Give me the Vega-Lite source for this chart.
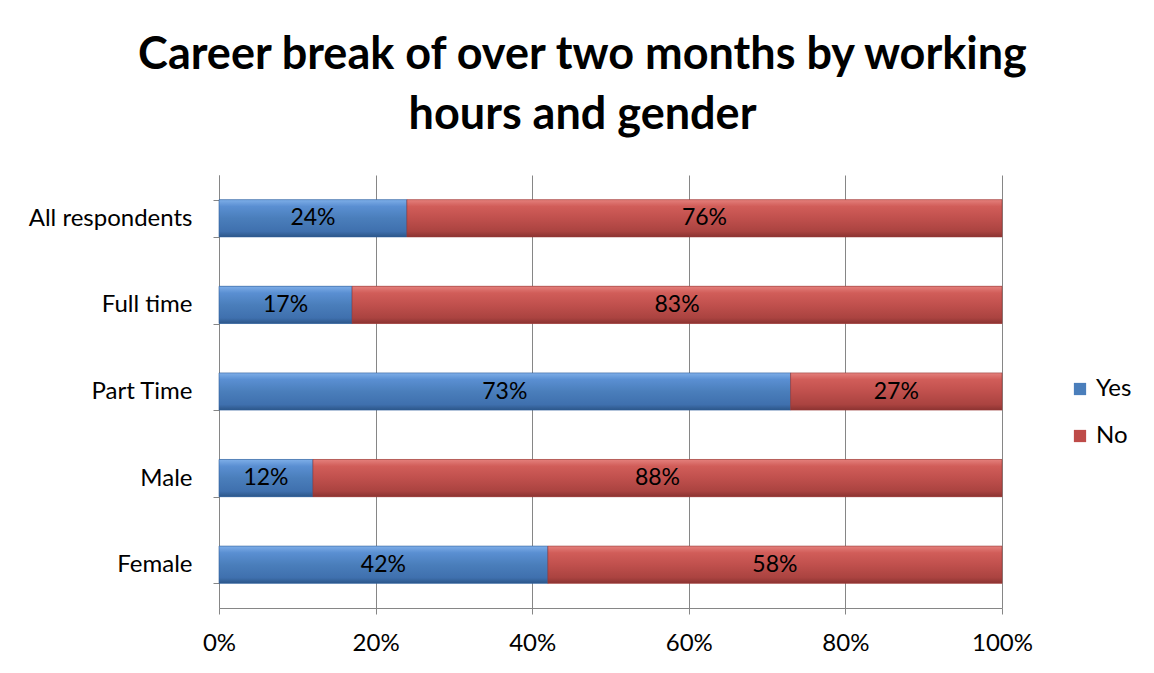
{
  "$schema": "https://vega.github.io/schema/vega-lite/v6.json",
  "width": 783,
  "height": 433,
  "autosize": {"type": "none"},
  "padding": {"left": 219, "top": 175, "right": 152, "bottom": 65},
  "background": "white",
  "config": {"view": {"stroke": null}},
  "title": {
    "text": ["Career break of over two months by working", "hours and gender"],
    "font": "Lato",
    "fontSize": 45,
    "fontWeight": "bold",
    "color": "black",
    "anchor": "middle",
    "frame": "group",
    "dx": -28,
    "offset": 25,
    "lineHeight": 60
  },
  "data": {
    "values": [
      {"category": "All respondents", "answer": "Yes", "value": 0.24, "label": "24%"},
      {"category": "All respondents", "answer": "No", "value": 0.76, "label": "76%"},
      {"category": "Full time", "answer": "Yes", "value": 0.17, "label": "17%"},
      {"category": "Full time", "answer": "No", "value": 0.83, "label": "83%"},
      {"category": "Part Time", "answer": "Yes", "value": 0.73, "label": "73%"},
      {"category": "Part Time", "answer": "No", "value": 0.27, "label": "27%"},
      {"category": "Male", "answer": "Yes", "value": 0.12, "label": "12%"},
      {"category": "Male", "answer": "No", "value": 0.88, "label": "88%"},
      {"category": "Female", "answer": "Yes", "value": 0.42, "label": "42%"},
      {"category": "Female", "answer": "No", "value": 0.58, "label": "58%"}
    ]
  },
  "transform": [
    {"stack": "value", "groupby": ["category"], "sort": [{"field": "answer", "order": "descending"}], "as": ["v0", "v1"]},
    {"calculate": "(datum.v0 + datum.v1) / 2", "as": "mid"}
  ],
  "encoding": {
    "y": {
      "field": "category",
      "type": "nominal",
      "sort": ["All respondents", "Full time", "Part Time", "Male", "Female"],
      "scale": {"paddingInner": 0.57, "paddingOuter": 0.285},
      "axis": {
        "title": null,
        "tickBand": "extent",
        "ticks": true,
        "tickSize": 6,
        "tickColor": "#868686",
        "domainColor": "#868686",
        "labelFont": "Lato",
        "labelFontSize": 24,
        "labelColor": "black",
        "labelPadding": 21,
        "grid": false
      }
    }
  },
  "layer": [
    {
      "mark": {"type": "bar"},
      "encoding": {
        "x": {
          "field": "v0",
          "type": "quantitative",
          "scale": {"domain": [0, 1]},
          "axis": {
            "title": null,
            "values": [0, 0.2, 0.4, 0.6, 0.8, 1],
            "format": ".0%",
            "grid": true,
            "gridColor": "#868686",
            "domainColor": "#868686",
            "tickColor": "#868686",
            "tickSize": 6,
            "labelFlush": false,
            "labelFont": "Lato",
            "labelFontSize": 24,
            "labelColor": "black",
            "labelPadding": 17
          }
        },
        "x2": {"field": "v1"},
        "color": {
          "field": "answer",
          "type": "nominal",
          "scale": {"domain": ["Yes", "No"], "range": ["#4a7ebb", "#be4b48"]},
          "legend": {
            "title": null,
            "orient": "none",
            "legendX": 849,
            "legendY": 202,
            "symbolType": "square",
            "symbolSize": 150,
            "symbolStrokeWidth": 0,
            "labelFont": "Lato",
            "labelFontSize": 24,
            "labelColor": "black",
            "labelOffset": 4,
            "rowPadding": 23
          }
        }
      }
    },
    {
      "transform": [{"filter": "datum.answer === 'Yes'"}],
      "mark": {
        "type": "bar",
        "stroke": "#2f5f9c",
        "strokeWidth": 0.6,
        "fill": {
          "gradient": "linear", "x1": 0, "y1": 0, "x2": 0, "y2": 1,
          "stops": [
            {"offset": 0, "color": "#7eaee8"},
            {"offset": 0.18, "color": "#5a8fd2"},
            {"offset": 0.5, "color": "#4a7ebb"},
            {"offset": 0.85, "color": "#3f70ae"},
            {"offset": 1, "color": "#2c5689"}
          ]
        }
      },
      "encoding": {
        "x": {"field": "v0", "type": "quantitative", "scale": {"domain": [0, 1]}},
        "x2": {"field": "v1"}
      }
    },
    {
      "transform": [{"filter": "datum.answer === 'No'"}],
      "mark": {
        "type": "bar",
        "stroke": "#9b3a38",
        "strokeWidth": 0.6,
        "fill": {
          "gradient": "linear", "x1": 0, "y1": 0, "x2": 0, "y2": 1,
          "stops": [
            {"offset": 0, "color": "#e4807c"},
            {"offset": 0.18, "color": "#d15d59"},
            {"offset": 0.5, "color": "#c0504d"},
            {"offset": 0.85, "color": "#aa4340"},
            {"offset": 1, "color": "#8b3331"}
          ]
        }
      },
      "encoding": {
        "x": {"field": "v0", "type": "quantitative", "scale": {"domain": [0, 1]}},
        "x2": {"field": "v1"}
      }
    },
    {
      "mark": {"type": "text", "font": "Lato", "fontSize": 23, "color": "black", "align": "center", "baseline": "middle"},
      "encoding": {
        "x": {"field": "mid", "type": "quantitative", "scale": {"domain": [0, 1]}},
        "text": {"field": "label", "type": "nominal"}
      }
    }
  ]
}
